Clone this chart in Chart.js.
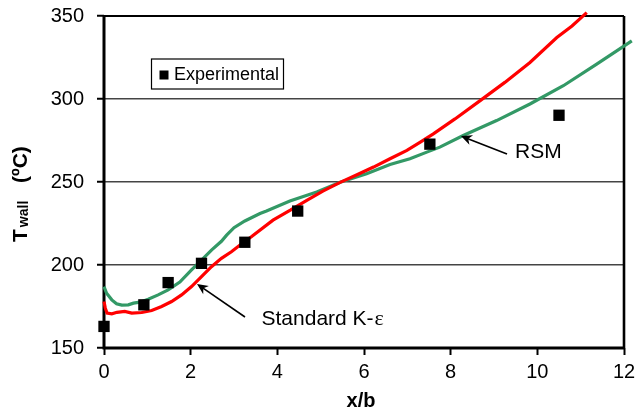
<!DOCTYPE html>
<html>
<head>
<meta charset="utf-8">
<script src="https://cdn.jsdelivr.net/npm/chart.js@4"></script>
<style>
  html, body { margin: 0; padding: 0; background: #fff; }
  canvas { display: block; }
</style>
</head>
<body>
<canvas id="c" width="639" height="413"></canvas>
<script>
// Wall temperature along the plate, x/b vs T_wall (°C)

// Standard K-epsilon model
const xKE = [0, 0.03, 0.07, 0.18, 0.3, 0.48, 0.64, 0.87, 1.1, 1.33, 1.56, 1.79, 2.02, 2.25, 2.48, 2.71, 2.94, 3.17, 3.4, 3.9, 4.3, 4.68, 5.05, 5.45, 5.85, 6.22, 6.6, 6.99, 7.3, 7.6, 8.1, 8.68, 9.25, 9.83, 10.45, 10.8, 11.14];
const tKE = [178, 174, 171, 170.6, 171.5, 172, 171, 171.4, 172.6, 175, 178, 182, 187, 193, 199, 204, 208, 212.7, 217, 227, 233, 239, 244.5, 249.8, 254.5, 259, 264, 269, 274, 279, 288, 299, 310, 322, 337, 344, 352];

// Reynolds stress model
const xRSM = [0, 0.06, 0.18, 0.29, 0.41, 0.56, 0.68, 0.83, 1.02, 1.25, 1.48, 1.75, 2.02, 2.25, 2.48, 2.71, 2.83, 3.0, 3.25, 3.6, 3.75, 4.29, 4.91, 5.45, 6.06, 6.6, 7.06, 7.45, 7.75, 8.29, 9.06, 9.83, 10.6, 11.37, 12.18];
const tRSM = [187, 183, 179, 176.6, 175.8, 176, 177, 177.6, 179.4, 182, 185, 189.7, 197, 203, 209, 214.3, 218, 222.5, 226.5, 231, 232.5, 238.5, 244, 249.8, 255, 260.5, 264, 268, 271, 278, 287, 297, 308, 321, 335];

// Measurements
const xExp = [0, 0.92, 1.48, 2.25, 3.25, 4.47, 7.52, 10.5];
const tExp = [163, 176, 189.4, 201, 213.7, 232.5, 272.8, 290.2];

const xTickStep = 2;
const yTickStep = 50;

const pts = (xs, ys) => xs.map((x, i) => ({ x: x, y: ys[i] }));

const SANS = '"Liberation Sans", Arial, sans-serif';

function arrow(ctx, x0, y0, x1, y1) {
  const a = Math.atan2(y1 - y0, x1 - x0);
  const L = 11, W = 5;
  ctx.save();
  ctx.strokeStyle = '#000';
  ctx.fillStyle = '#000';
  ctx.lineWidth = 1.6;
  ctx.beginPath();
  ctx.moveTo(x0, y0);
  ctx.lineTo(x1 - Math.cos(a) * 6, y1 - Math.sin(a) * 6);
  ctx.stroke();
  ctx.beginPath();
  ctx.moveTo(x1, y1);
  ctx.lineTo(x1 - L * Math.cos(a) + W * Math.sin(a), y1 - L * Math.sin(a) - W * Math.cos(a));
  ctx.lineTo(x1 - L * 0.7 * Math.cos(a), y1 - L * 0.7 * Math.sin(a));
  ctx.lineTo(x1 - L * Math.cos(a) - W * Math.sin(a), y1 - L * Math.sin(a) + W * Math.cos(a));
  ctx.closePath();
  ctx.fill();
  ctx.restore();
}

// Frame around the plotting area
const framePlugin = {
  id: 'frame',
  beforeDatasetsDraw(chart) {
    const { ctx, chartArea: a } = chart;
    ctx.save();
    ctx.strokeStyle = '#000';
    ctx.lineWidth = 2;
    ctx.beginPath();
    ctx.moveTo(a.left, a.top);
    ctx.lineTo(a.right, a.top);
    ctx.stroke();
    ctx.lineWidth = 2.6;
    ctx.beginPath();
    ctx.moveTo(a.right, a.top);
    ctx.lineTo(a.right, a.bottom);
    ctx.stroke();
    ctx.lineWidth = 3;
    ctx.beginPath();
    ctx.moveTo(a.left, a.top - 1);
    ctx.lineTo(a.left, a.bottom);
    ctx.lineTo(a.right, a.bottom);
    ctx.stroke();
    ctx.restore();
  }
};

// Axis titles, legend box and curve labels
const labelsPlugin = {
  id: 'labels',
  afterDraw(chart) {
    const { ctx, chartArea: a } = chart;
    ctx.save();
    ctx.fillStyle = '#000';
    ctx.textBaseline = 'alphabetic';
    ctx.textAlign = 'left';

    // y title, rotated: T_wall (ºC)
    ctx.save();
    ctx.translate(27, 242);
    ctx.rotate(-Math.PI / 2);
    ctx.font = 'bold 21px ' + SANS;
    ctx.fillText('T', 0, 0);
    const tw = ctx.measureText('T').width;
    ctx.font = 'bold 14px ' + SANS;
    ctx.fillText('wall', tw + 2, 0.5);
    ctx.font = 'bold 21px ' + SANS;
    ctx.fillText('(ºC)', 59, 0);
    ctx.restore();

    // x title
    ctx.font = 'bold 20px ' + SANS;
    ctx.textAlign = 'center';
    ctx.fillText('x/b', (a.left + a.right) / 2 - 3, 407);

    // legend box
    ctx.textAlign = 'left';
    ctx.fillStyle = '#fff';
    ctx.fillRect(151.5, 59, 132, 30);
    ctx.strokeStyle = '#000';
    ctx.lineWidth = 1.2;
    ctx.strokeRect(151.5, 59, 132, 30);
    ctx.fillStyle = '#000';
    ctx.fillRect(159.5, 70.5, 9, 9);
    ctx.font = '18px ' + SANS;
    ctx.fillText('Experimental', 174, 79.5);

    // curve labels
    ctx.font = '21px ' + SANS;
    ctx.fillText('RSM', 515, 157.5);
    ctx.fillText('Standard K-', 261.5, 324.5);
    const kw = ctx.measureText('Standard K-').width;
    ctx.font = '22px "Liberation Serif", "DejaVu Serif", serif';
    ctx.fillText('ε', 261.5 + kw + 1, 324.5);

    arrow(ctx, 507, 154, 461, 136);
    arrow(ctx, 245, 317, 197, 284);
    ctx.restore();
  }
};

new Chart(document.getElementById('c'), {
  type: 'scatter',
  data: {
    datasets: [
      {
        label: 'Experimental',
        data: pts(xExp, tExp),
        pointStyle: 'rect',
        pointRadius: 8,
        pointHoverRadius: 8,
        backgroundColor: '#000',
        borderColor: '#000',
        borderWidth: 0,
        clip: false,
        order: 0
      },
      {
        label: 'Standard K-ε',
        data: pts(xKE, tKE),
        showLine: true,
        borderColor: '#ff0000',
        backgroundColor: '#ff0000',
        borderWidth: 3.2,
        pointRadius: 0,
        tension: 0,
        clip: false,
        order: 1
      },
      {
        label: 'RSM',
        data: pts(xRSM, tRSM),
        showLine: true,
        borderColor: '#339966',
        backgroundColor: '#339966',
        borderWidth: 3.2,
        pointRadius: 0,
        tension: 0,
        clip: false,
        order: 2
      }
    ]
  },
  options: {
    responsive: false,
    devicePixelRatio: 1,
    animation: false,
    events: [],
    layout: { padding: { left: 0, top: 16, right: 15, bottom: 0 } },
    plugins: {
      legend: { display: false },
      tooltip: { enabled: false },
      title: { display: false }
    },
    scales: {
      x: {
        type: 'linear',
        min: 0,
        max: 12,
        afterFit(s) {
          s.height = 65;
          s.paddingLeft = 0;
          s.paddingRight = 0;
        },
        ticks: {
          stepSize: xTickStep,
          color: '#000',
          font: { family: SANS, size: 20 },
          padding: 5,
          maxRotation: 0
        },
        grid: {
          drawOnChartArea: false,
          drawTicks: true,
          tickLength: 7,
          tickWidth: 2,
          tickColor: '#000',
          color: '#000'
        },
        border: { display: false }
      },
      y: {
        type: 'linear',
        min: 150,
        max: 350,
        afterFit(s) {
          s.width = 104;
          s.paddingTop = 0;
          s.paddingBottom = 0;
        },
        ticks: {
          stepSize: yTickStep,
          color: '#000',
          font: { family: SANS, size: 20 },
          padding: 13
        },
        grid: {
          drawOnChartArea: true,
          drawTicks: true,
          tickLength: 7,
          tickWidth: 2,
          tickColor: '#000',
          color: '#444',
          lineWidth: 1.5
        },
        border: { display: false }
      }
    }
  },
  plugins: [framePlugin, labelsPlugin]
});
</script>
</body>
</html>
